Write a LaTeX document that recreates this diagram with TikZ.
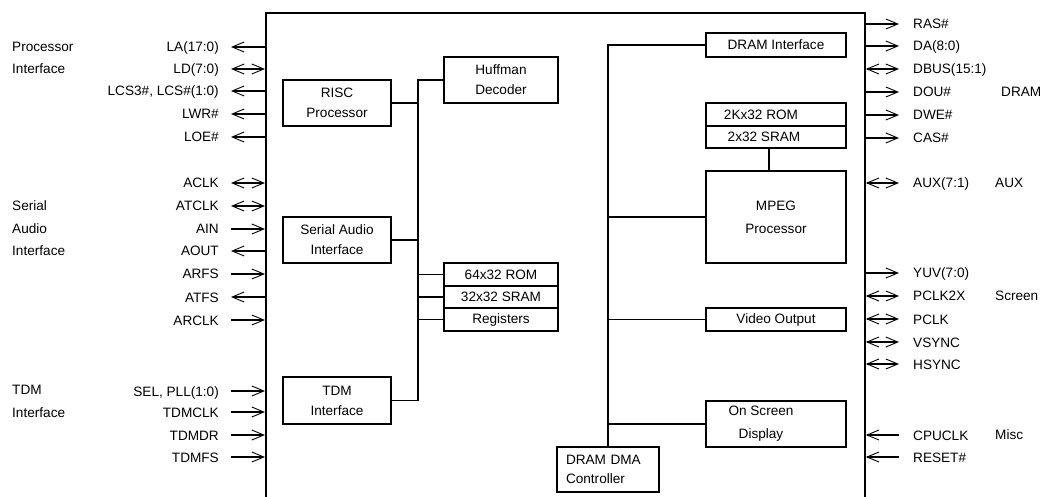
\documentclass[tikz,border=0pt]{standalone}
\usepackage{fontspec}
\setmainfont{Liberation Sans}
\usetikzlibrary{arrows.meta}

\begin{document}
\begin{tikzpicture}[x=1pt,y=1pt,font=\fontsize{13.6}{20}\selectfont]
	\tikzstyle{blk}=[draw,line width=1.6pt,inner sep=0pt,align=center]
	\tikzstyle{wire}=[line width=1.6pt]
	\tikzstyle{pin}=[line width=1.6pt,>={Straight Barb[length=12pt,width=10pt,line width=0.9pt]}]
	\tikzstyle{pinl}=[anchor=east,inner xsep=12pt,inner ysep=0pt,text height=10pt,text depth=0pt]
	\tikzstyle{pinr}=[anchor=west,inner xsep=14pt,inner ysep=0pt,text height=10pt,text depth=0pt]
	\tikzstyle{group}=[anchor=west,inner sep=0pt,align=left,font=\fontsize{13.6}{22.5}\selectfont]

	\clip (0,0) rectangle (1042,-497);
	\node[draw,line width=1.8pt,anchor=north west,minimum width=599pt,minimum height=520pt] (chip) at (265,-12) {};

	\node[blk,minimum width=108pt,minimum height=46pt] (risc) at (337,-103) {RISC\\Processor};
	\node[blk,minimum width=114pt,minimum height=46pt] (huff) at (501,-80) {Huffman\\Decoder};
	\node[blk,minimum width=108pt,minimum height=46pt] (sai) at (337,-240) {Serial Audio\\Interface};
	\node[blk,minimum width=108pt,minimum height=47pt] (tdm) at (337,-400.5) {TDM\\Interface};
	\node[blk,minimum width=114pt,minimum height=22.5pt] (rom64) at (501,-274.5) {64x32 ROM};
	\node[blk,minimum width=114pt,minimum height=22.5pt] (sram32) at (501,-297) {32x32 SRAM};
	\node[blk,minimum width=114pt,minimum height=22.5pt] (regs) at (501,-319.5) {Registers};

	\node[blk,minimum width=140pt,minimum height=24pt] (dramif) at (776,-45) {DRAM Interface};
	\node[blk,minimum width=140pt,minimum height=23pt,label={[xshift=-15pt]center:2Kx32 ROM}] (rom2k) at (776,-114.5) {};
	\node[blk,minimum width=140pt,minimum height=22pt,label={[xshift=-12pt]center:2x32 SRAM}] (sram2) at (776,-137) {};
	\node[blk,minimum width=140pt,minimum height=92pt,font=\fontsize{13.6}{23}\selectfont] (mpeg) at (776,-217) {MPEG\\Processor};
	\node[blk,minimum width=140pt,minimum height=23pt] (vid) at (776,-319.5) {Video Output};
	\node[blk,minimum width=140pt,minimum height=46pt,label={[xshift=-15pt,align=center,font=\fontsize{13.6}{23}\selectfont]center:On Screen\\Display}] (osd) at (776,-424) {};
	\node[blk,text width=84pt,inner xsep=9pt,minimum height=45pt,align=left,font=\fontsize{13.6}{19}\selectfont] (dma) at (608,-469.5) {DRAM DMA\\Controller};

	\coordinate (bus) at (418,0);
	\draw[wire] (huff.west) -- (huff.west -| bus) -- (tdm.east -| bus) -- (tdm.east);
	\draw[wire] (risc.east) -- (risc.east -| bus);
	\draw[wire] (sai.east) -- (sai.east -| bus);
	\draw[wire] (rom64.west) -- (rom64.west -| bus);
	\draw[wire] (sram32.west) -- (sram32.west -| bus);
	\draw[wire] (regs.west) -- (regs.west -| bus);
	\draw[wire] (dramif.west) -| (dma.north);
	\draw[wire] (mpeg.west) -- (mpeg.west -| dma.north);
	\draw[wire] (vid.west) -- (vid.west -| dma.north);
	\draw[wire] (osd.west) -- (osd.west -| dma.north);
	\draw[wire] ([xshift=-7pt]sram2.south) -- ([xshift=-7pt]mpeg.north);

	\node[group] (g_proc) at (12,-58) {Processor\\Interface};
	\node[group] (g_sai) at (12,-228.5) {Serial\\Audio\\Interface};
	\node[group] (g_tdm) at (12,-401.5) {TDM\\Interface};
	\node[group] (g_dram) at (1001,-92) {DRAM};
	\node[group] (g_aux) at (995,-183) {AUX};
	\node[group] (g_scr) at (995,-296) {Screen};
	\node[group] (g_misc) at (995,-435) {Misc};

	\node[pinl] (la) at (231,-47) {LA(17:0)};
	\node[pinl] (ld) at (231,-69) {LD(7:0)};
	\node[pinl] (lcs) at (231,-91) {LCS3\#, LCS\#(1:0)};
	\node[pinl] (lwr) at (231,-114) {LWR\#};
	\node[pinl] (loe) at (231,-137) {LOE\#};
	\node[pinl] (aclk) at (231,-183) {ACLK};
	\node[pinl] (atclk) at (231,-206) {ATCLK};
	\node[pinl] (ain) at (231,-229) {AIN};
	\node[pinl] (aout) at (231,-251) {AOUT};
	\node[pinl] (arfs) at (231,-274) {ARFS};
	\node[pinl] (atfs) at (231,-297) {ATFS};
	\node[pinl] (arclk) at (231,-320) {ARCLK};
	\node[pinl] (sel) at (231,-391) {SEL, PLL(1:0)};
	\node[pinl] (tdmclk) at (231,-412) {TDMCLK};
	\node[pinl] (tdmdr) at (231,-435) {TDMDR};
	\node[pinl] (tdmfs) at (231,-457) {TDMFS};

	\draw[pin,->] (la -| chip.west) -- (la);
	\draw[pin,<->] (ld -| chip.west) -- (ld);
	\draw[pin,->] (lcs -| chip.west) -- (lcs);
	\draw[pin,->] (lwr -| chip.west) -- (lwr);
	\draw[pin,->] (loe -| chip.west) -- (loe);
	\draw[pin,<->] (aclk -| chip.west) -- (aclk);
	\draw[pin,<->] (atclk -| chip.west) -- (atclk);
	\draw[pin,<-] (ain -| chip.west) -- (ain);
	\draw[pin,->] (aout -| chip.west) -- (aout);
	\draw[pin,<-] (arfs -| chip.west) -- (arfs);
	\draw[pin,->] (atfs -| chip.west) -- (atfs);
	\draw[pin,<-] (arclk -| chip.west) -- (arclk);
	\draw[pin,<-] (sel -| chip.west) -- (sel);
	\draw[pin,<-] (tdmclk -| chip.west) -- (tdmclk);
	\draw[pin,<-] (tdmdr -| chip.west) -- (tdmdr);
	\draw[pin,<-] (tdmfs -| chip.west) -- (tdmfs);

	\node[pinr] (ras) at (899,-24) {RAS\#};
	\node[pinr] (da) at (899,-46) {DA(8:0)};
	\node[pinr] (dbus) at (899,-69) {DBUS(15:1)};
	\node[pinr] (dou) at (899,-92) {DOU\#};
	\node[pinr] (dwe) at (899,-115) {DWE\#};
	\node[pinr] (cas) at (899,-138) {CAS\#};
	\node[pinr] (aux) at (899,-183) {AUX(7:1)};
	\node[pinr] (yuv) at (899,-273) {YUV(7:0)};
	\node[pinr] (pclkx) at (899,-296) {PCLK2X};
	\node[pinr] (pclk) at (899,-319) {PCLK};
	\node[pinr] (vsync) at (899,-342) {VSYNC};
	\node[pinr] (hsync) at (899,-364) {HSYNC};
	\node[pinr] (cpuclk) at (899,-435) {CPUCLK};
	\node[pinr] (reset) at (899,-457) {RESET\#};

	\draw[pin,->] (ras -| chip.east) -- (ras);
	\draw[pin,->] (da -| chip.east) -- (da);
	\draw[pin,<->] (dbus -| chip.east) -- (dbus);
	\draw[pin,->] (dou -| chip.east) -- (dou);
	\draw[pin,->] (dwe -| chip.east) -- (dwe);
	\draw[pin,->] (cas -| chip.east) -- (cas);
	\draw[pin,<->] (aux -| chip.east) -- (aux);
	\draw[pin,->] (yuv -| chip.east) -- (yuv);
	\draw[pin,<->] (pclkx -| chip.east) -- (pclkx);
	\draw[pin,<->] (pclk -| chip.east) -- (pclk);
	\draw[pin,<->] (vsync -| chip.east) -- (vsync);
	\draw[pin,<->] (hsync -| chip.east) -- (hsync);
	\draw[pin,<-] (cpuclk -| chip.east) -- (cpuclk);
	\draw[pin,<-] (reset -| chip.east) -- (reset);
\end{tikzpicture}
\end{document}
